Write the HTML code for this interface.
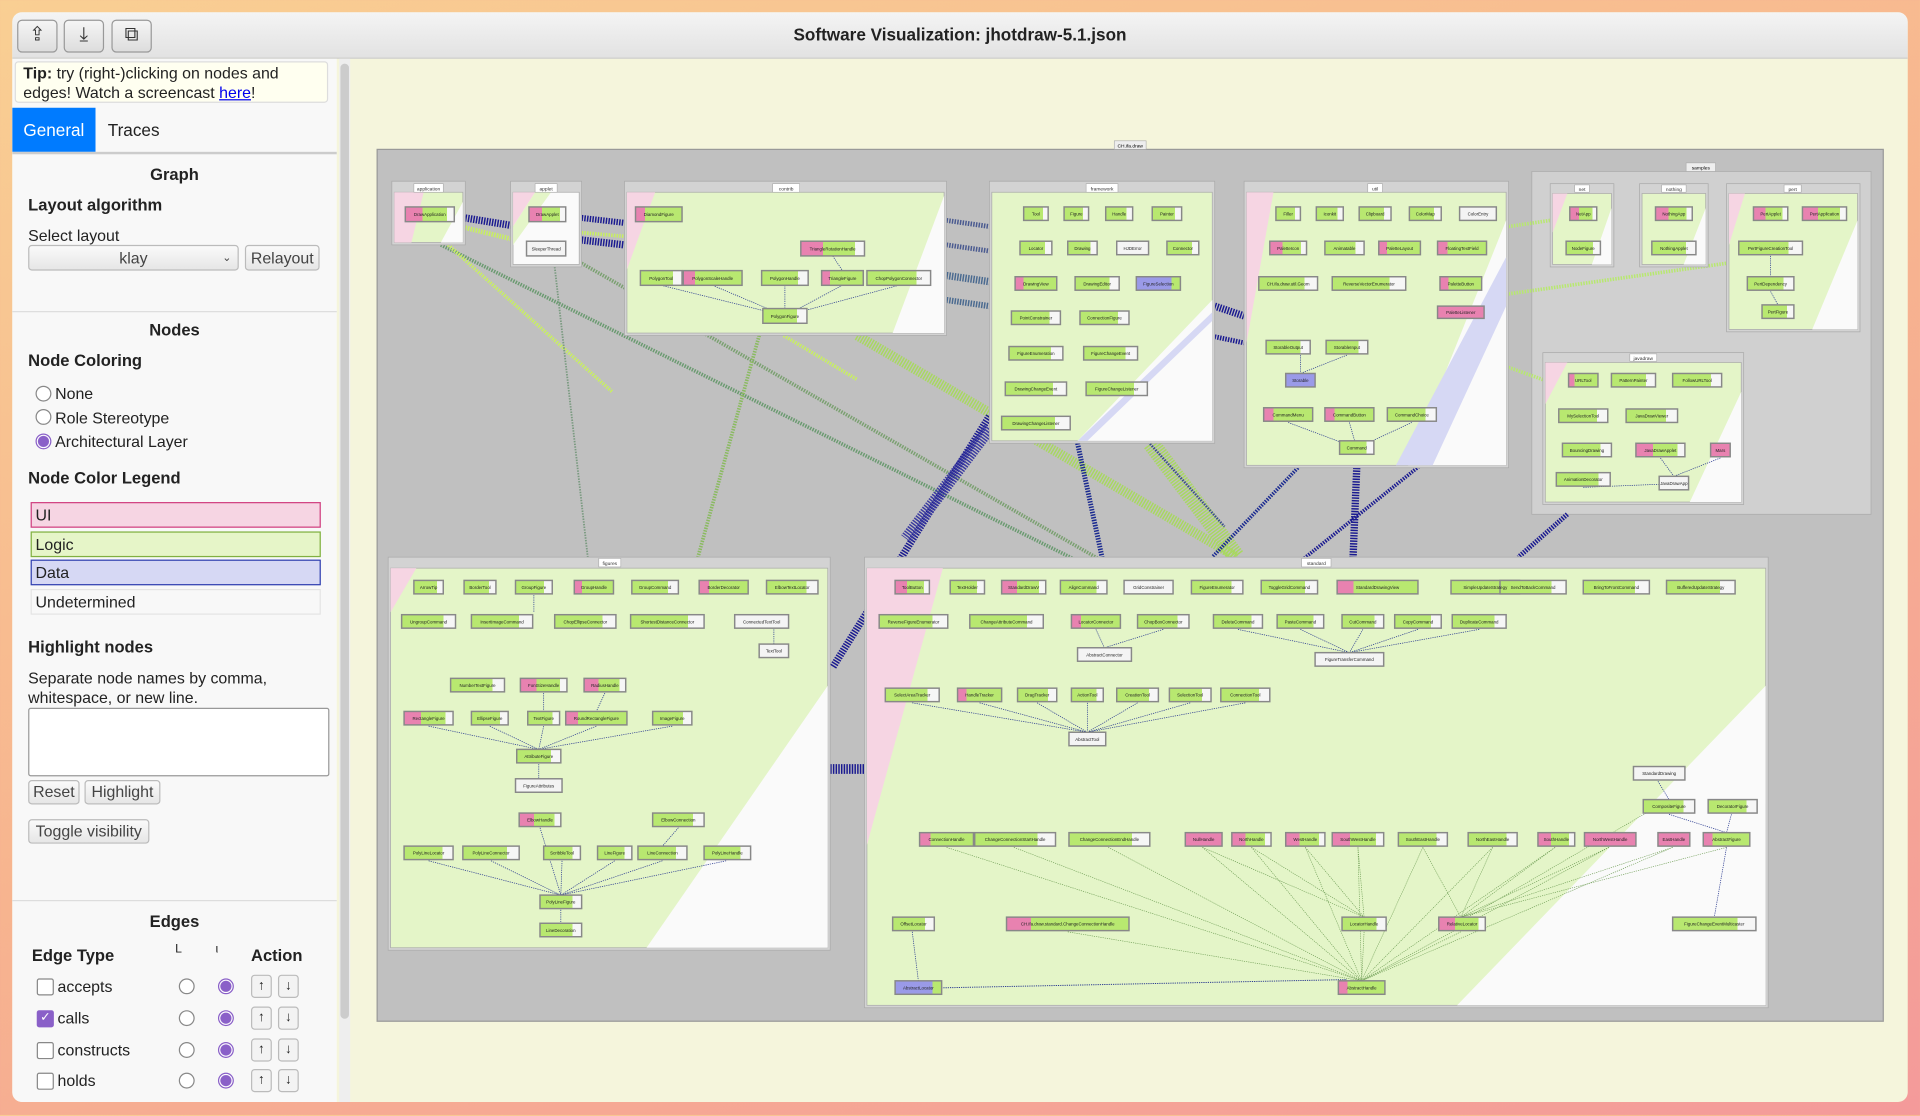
<!DOCTYPE html>
<html><head><meta charset="utf-8">
<style>
html,body{margin:0;padding:0;width:1920px;height:1115px;overflow:hidden;font-family:"Liberation Sans",sans-serif;}
body{background:linear-gradient(160deg,#f9cf93 0%,#f7b48f 50%,#f49a9a 100%);}
#w{position:absolute;left:0;top:0;width:1568px;height:911px;transform:scale(1.22449);transform-origin:0 0;}
#win{position:absolute;left:10px;top:10px;width:1548px;height:890px;background:#f5f5dc;border-radius:8px;overflow:hidden;}
#tb{position:absolute;left:0;top:0;width:1548px;height:37px;background:linear-gradient(#f4f4f4,#e2e2e2);border-bottom:1px solid #ccc;}
.tbb{position:absolute;top:6px;width:31px;height:25px;border:1px solid #999;border-radius:4px;background:linear-gradient(#f5f5f5,#ddd);font-size:16px;text-align:center;line-height:24px;color:#333}
#title{position:absolute;left:0;width:1548px;top:10px;text-align:center;font-weight:bold;font-size:14px;color:#222}
#sb{position:absolute;left:0;top:38px;width:265px;height:852px;background:#f8f8f8;color:#222;font-size:13px}
.a{position:absolute;white-space:nowrap}
.h{font-weight:bold;font-size:13.5px}
.btn{position:absolute;border:1px solid #bbb;border-radius:3px;background:linear-gradient(#fafafa,#e6e6e6);font-size:13px;color:#444;text-align:center}
.rad{position:absolute;width:11px;height:11px;border:1px solid #888;border-radius:50%;background:#fff}
.rad.on{border-color:#8a60c8;background:radial-gradient(#8a60c8 55%,#fff 62%)}
.cb{position:absolute;width:12px;height:12px;border:1px solid #888;border-radius:2px;background:#fff}
.leg{position:absolute;left:15px;width:232px;height:19px;font-size:13px;line-height:19px;padding-left:3px}
.ab{position:absolute;width:15px;height:17px;border:1px solid #bbb;border-radius:3px;background:#f3f3f3;font-size:11px;text-align:center;line-height:17px}
</style></head><body>
<div id="w">
<div id="win">
 <div id="tb">
  <div class="tbb" style="left:4px">⇪</div>
  <div class="tbb" style="left:42px">⤓</div>
  <div class="tbb" style="left:81px">⧉</div>
  <div id="title">Software Visualization: jhotdraw-5.1.json</div>
 </div>
 <div id="sb">
  <div class="a" style="left:2px;top:2px;width:256px;height:34px;background:#fffff0;border:1px solid #ddd;border-radius:3px;font-size:13px;line-height:16px;padding:1px 0 0 6px;white-space:normal;box-sizing:border-box"><b>Tip:</b> try (right-)clicking on nodes and edges! Watch a screencast <span style="color:#00e;text-decoration:underline">here</span>!</div>
  <div class="a" style="left:0;top:40px;width:68px;height:36px;background:#007bff;color:#fff;font-size:14px;line-height:36px;text-align:center">General</div>
  <div class="a" style="left:78px;top:40px;font-size:14px;line-height:36px">Traces</div>
  <div class="a" style="left:0;top:76px;width:265px;height:2px;background:#ccc"></div>
  <div class="a h" style="left:0;width:265px;text-align:center;top:87px">Graph</div>
  <div class="a h" style="left:13px;top:112px;font-size:13.5px">Layout algorithm</div>
  <div class="a" style="left:13px;top:137px">Select layout</div>
  <div class="btn" style="left:13px;top:152px;width:170px;height:19px;line-height:19px">klay <span style="position:absolute;right:5px;font-size:9px">⌄</span></div>
  <div class="btn" style="left:190px;top:152px;width:59px;height:19px;line-height:19px">Relayout</div>
  <div class="a" style="left:0;top:206px;width:265px;height:1px;background:#ddd"></div>
  <div class="a h" style="left:0;width:265px;text-align:center;top:214px">Nodes</div>
  <div class="a h" style="left:13px;top:239px">Node Coloring</div>
  <div class="rad" style="left:19px;top:267px"></div><div class="a" style="left:35px;top:266px">None</div>
  <div class="rad" style="left:19px;top:286px"></div><div class="a" style="left:35px;top:286px">Role Stereotype</div>
  <div class="rad on" style="left:19px;top:306px"></div><div class="a" style="left:35px;top:305px">Architectural Layer</div>
  <div class="a h" style="left:13px;top:335px">Node Color Legend</div>
  <div class="leg" style="top:362px;background:#f6d5e3;border:1px solid #d04080">UI</div>
  <div class="leg" style="top:386px;background:#e6f5c8;border:1px solid #80b040">Logic</div>
  <div class="leg" style="top:409px;background:#d6d8f4;border:1px solid #3040b0">Data</div>
  <div class="leg" style="top:433px;background:#f8f8f8;border:1px solid #e4e4e4">Undetermined</div>
  <div class="a h" style="left:13px;top:473px">Highlight nodes</div>
  <div class="a" style="left:13px;top:498px;line-height:16px">Separate node names by comma,<br>whitespace, or new line.</div>
  <div class="a" style="left:13px;top:530px;width:244px;height:54px;border:1px solid #999;background:#fff;border-radius:2px"></div>
  <div class="btn" style="left:13px;top:589px;width:40px;height:18px;line-height:18px">Reset</div>
  <div class="btn" style="left:59px;top:589px;width:60px;height:18px;line-height:18px">Highlight</div>
  <div class="btn" style="left:13px;top:621px;width:97px;height:18px;line-height:18px">Toggle visibility</div>
  <div class="a" style="left:0;top:687px;width:265px;height:1px;background:#ddd"></div>
  <div class="a h" style="left:0;width:265px;text-align:center;top:697px">Edges</div>
  <div class="a h" style="left:16px;top:725px">Edge Type</div>
  <div class="a" style="left:133px;top:722px;font-size:10px">L</div><div class="a" style="left:166px;top:722px;font-size:10px">ι</div>
  <div class="a h" style="left:195px;top:725px">Action</div>
  <div class="cb" style="left:20px;top:751px"></div><div class="a" style="left:37px;top:750px">accepts</div>
  <div class="cb" style="left:20px;top:777px;background:#8a60c8;border-color:#8a60c8;color:#fff;font-size:10px;line-height:12px;text-align:center">✓</div><div class="a" style="left:37px;top:776px">calls</div>
  <div class="cb" style="left:20px;top:803px"></div><div class="a" style="left:37px;top:802px">constructs</div>
  <div class="cb" style="left:20px;top:828px"></div><div class="a" style="left:37px;top:827px">holds</div>
  <div class="cb" style="left:20px;top:852px"></div>
  <div class="rad" style="left:136px;top:751px"></div><div class="rad on" style="left:168px;top:751px"></div>
  <div class="rad" style="left:136px;top:777px"></div><div class="rad on" style="left:168px;top:777px"></div>
  <div class="rad" style="left:136px;top:803px"></div><div class="rad on" style="left:168px;top:803px"></div>
  <div class="rad" style="left:136px;top:828px"></div><div class="rad on" style="left:168px;top:828px"></div>
  <div class="ab" style="left:195px;top:748px">↑</div><div class="ab" style="left:217px;top:748px">↓</div>
  <div class="ab" style="left:195px;top:774px">↑</div><div class="ab" style="left:217px;top:774px">↓</div>
  <div class="ab" style="left:195px;top:800px">↑</div><div class="ab" style="left:217px;top:800px">↓</div>
  <div class="ab" style="left:195px;top:825px">↑</div><div class="ab" style="left:217px;top:825px">↓</div>
 </div>
 <div class="a" style="left:267px;top:38px;width:9px;height:852px;background:#eee"></div>
 <div class="a" style="left:268px;top:42px;width:7px;height:780px;background:#ccc;border-radius:4px"></div>
</div>

<svg class="a" style="left:0;top:0" width="1568" height="911" viewBox="0 0 1568 911" font-family="Liberation Sans,sans-serif">
<defs>
<linearGradient id="gp" x1="0" x2="1"><stop offset="0" stop-color="#e882b0"/><stop offset=".35" stop-color="#e882b0"/><stop offset=".35" stop-color="#b8e870"/><stop offset=".85" stop-color="#b8e870"/><stop offset=".85" stop-color="#f6f6f6"/></linearGradient>
<linearGradient id="gg" x1="0" x2="1"><stop offset="0" stop-color="#b8e870"/><stop offset=".78" stop-color="#b8e870"/><stop offset=".78" stop-color="#f6f6f6"/></linearGradient>
<linearGradient id="gk" x1="0" x2="1"><stop offset="0" stop-color="#e882b0"/><stop offset=".2" stop-color="#e882b0"/><stop offset=".2" stop-color="#b8e870"/></linearGradient>
<linearGradient id="gw" x1="0" x2="1"><stop offset="0" stop-color="#f4f4f4"/></linearGradient>
<linearGradient id="gb" x1="0" x2="1"><stop offset="0" stop-color="#9a9ae8"/><stop offset=".8" stop-color="#9a9ae8"/><stop offset=".8" stop-color="#b8e870"/></linearGradient>
<linearGradient id="gm" x1="0" x2="1"><stop offset="0" stop-color="#e882b0"/></linearGradient>
</defs>
<rect x="308" y="122" width="1230" height="712" fill="#c0c0c0" stroke="#999"/>
<rect x="910" y="115" width="26" height="7" fill="#eee" stroke="#aaa" stroke-width=".5"/><text x="923" y="120.5" font-size="4" text-anchor="middle">CH.ifa.draw</text>
<rect x="1251" y="140" width="277" height="280" fill="#d0d0d0" stroke="#aaa" stroke-width=".6"/>
<rect x="1377" y="133" width="24" height="7" fill="#eee" stroke="#aaa" stroke-width=".5"/><text x="1389" y="138.5" font-size="4" text-anchor="middle">samples</text>

<g fill="none" stroke-dasharray="1.2 1">
<path d="M360 200 L880 458" stroke="#6a9a70" stroke-width="3"/>
<path d="M366 200 L500 320" stroke="#c8f060" stroke-width="3"/>
<path d="M475 215 L900 458" stroke="#7aa070" stroke-width="3"/>
<path d="M453 218 L480 455" stroke="#7a9a80" stroke-width="1.5"/>
<path d="M620 274 L570 455" stroke="#8aba60" stroke-width="3"/>
<path d="M700 274 L1010 455" stroke="#a8d860" stroke-width="8"/>
<path d="M640 274 L700 310" stroke="#c8f060" stroke-width="3"/>
<path d="M380 178 L417 184" stroke="#1a1a90" stroke-width="6"/>
<path d="M380 186 L417 195" stroke="#c8f060" stroke-width="4"/>
<path d="M475 178 L510 182" stroke="#1a1a90" stroke-width="5"/>
<path d="M475 196 L510 200" stroke="#1a1a90" stroke-width="6"/>
<path d="M475 190 L510 193" stroke="#c8f060" stroke-width="3"/>
<path d="M773 180 L808 185" stroke="#4a5a90" stroke-width="4"/>
<path d="M773 200 L808 205" stroke="#4a5a90" stroke-width="4"/>
<path d="M773 225 L808 230" stroke="#4a6a90" stroke-width="6"/>
<path d="M773 245 L808 250" stroke="#4a6a90" stroke-width="5"/>
<path d="M992 250 L1016 258" stroke="#1a1a90" stroke-width="6"/>
<path d="M992 275 L1016 280" stroke="#1a1a90" stroke-width="4"/>
<path d="M1232 185 L1266 180" stroke="#b8e870" stroke-width="3"/>
<path d="M1232 240 L1410 215" stroke="#b8e870" stroke-width="3"/>
<path d="M1232 300 L1260 310" stroke="#b8e870" stroke-width="3"/>
<path d="M808 340 L680 545" stroke="#1a1a90" stroke-width="6"/>
<path d="M808 350 L740 440" stroke="#3a3aa0" stroke-width="10"/>
<path d="M880 362 L900 455" stroke="#1a2a90" stroke-width="4"/>
<path d="M940 362 L1010 455" stroke="#a8d860" stroke-width="14"/>
<path d="M1108 382 L1105 455" stroke="#1a1a90" stroke-width="6"/>
<path d="M1060 382 L990 455" stroke="#1a2a90" stroke-width="3"/>
<path d="M1280 420 L1240 455" stroke="#1a1a90" stroke-width="4"/>
<path d="M1060 460 L1160 380" stroke="#1a1a90" stroke-width="3"/>
<path d="M678 628 L706 628" stroke="#1a1a90" stroke-width="8"/>
<path d="M820 230 L1000 430" stroke="#3a4a90" stroke-width="2"/>
</g>

<g stroke="#aaa" stroke-width=".6">
<rect x="320" y="148" width="60" height="52" fill="#d3d3d3"/>
<rect x="322" y="157" width="56" height="41" fill="#e4f5c8"/>
<polygon points="322,157 346,157 336,198 322,198" fill="#f6d5e3" stroke="none"/><polygon points="378,165 378,198 360,198" fill="#fafafa" stroke="none"/>
<rect x="417" y="148" width="58" height="70" fill="#d3d3d3"/>
<rect x="419" y="157" width="54" height="59" fill="#fafafa"/>
<polygon points="419,157 437,157 419,185" fill="#f6d5e3" stroke="none"/><polygon points="437,157 450,157 419,200 419,185" fill="#e4f5c8" stroke="none"/>
<rect x="510" y="148" width="263" height="126" fill="#d3d3d3"/>
<rect x="512" y="157" width="259" height="115" fill="#e4f5c8"/>
<polygon points="512,157 535,157 512,220" fill="#f6d5e3" stroke="none"/><polygon points="771,160 771,272 729,272" fill="#fafafa" stroke="none"/>
<rect x="808" y="148" width="184" height="214" fill="#d3d3d3"/>
<rect x="810" y="157" width="180" height="203" fill="#e4f5c8"/>
<polygon points="990,245 990,360 880,360" fill="#fafafa" stroke="none"/><polygon points="990,255 990,262 888,360 880,360" fill="#d6d8f4" stroke="none"/>
<rect x="1016" y="148" width="216" height="234" fill="#d3d3d3"/>
<rect x="1018" y="157" width="212" height="223" fill="#e4f5c8"/>
<polygon points="1018,157 1040,157 1018,280" fill="#f6d5e3" stroke="none"/><polygon points="1230,180 1230,380 1150,380" fill="#fafafa" stroke="none"/><polygon points="1230,210 1230,250 1170,380 1140,380" fill="#d6d8f4" stroke="none"/>
<rect x="1266" y="150" width="52" height="68" fill="#d3d3d3"/><rect x="1268" y="158" width="48" height="58" fill="#e4f5c8"/><polygon points="1268,158 1280,158 1268,190" fill="#f6d5e3" stroke="none"/><polygon points="1316,170 1316,216 1300,216" fill="#fafafa" stroke="none"/>
<rect x="1339" y="150" width="56" height="68" fill="#d3d3d3"/><rect x="1341" y="158" width="52" height="58" fill="#e4f5c8"/><polygon points="1393,170 1393,216 1375,216" fill="#fafafa" stroke="none"/>
<rect x="1410" y="150" width="109" height="121" fill="#d3d3d3"/><rect x="1412" y="158" width="105" height="111" fill="#e4f5c8"/><polygon points="1412,158 1425,158 1412,200" fill="#f6d5e3" stroke="none"/><polygon points="1517,180 1517,269 1480,269" fill="#fafafa" stroke="none"/>
<rect x="1260" y="288" width="164" height="124" fill="#d3d3d3"/><rect x="1262" y="296" width="160" height="114" fill="#e4f5c8"/><polygon points="1262,296 1280,296 1262,330" fill="#f6d5e3" stroke="none"/><polygon points="1422,320 1422,410 1380,410" fill="#fafafa" stroke="none"/>
<rect x="317" y="455" width="361" height="321" fill="#d3d3d3"/>
<rect x="319" y="464" width="357" height="310" fill="#e4f5c8"/>
<polygon points="319,464 340,464 319,500" fill="#f6d5e3" stroke="none"/><polygon points="676,560 676,774 528,774" fill="#fafafa" stroke="none"/>
<rect x="706" y="455" width="738" height="368" fill="#d3d3d3"/>
<rect x="708" y="464" width="734" height="357" fill="#e4f5c8"/>
<polygon points="708,464 770,464 708,690" fill="#f6d5e3" stroke="none"/><polygon points="1442,560 1442,821 1190,821" fill="#fafafa" stroke="none"/>
</g>
<g font-size="4" text-anchor="middle" fill="#333">
<g fill="#fff" stroke="#aaa" stroke-width=".5">
<rect x="338" y="150" width="24" height="7"/><rect x="437" y="150" width="18" height="7"/><rect x="631" y="150" width="22" height="7"/><rect x="887" y="150" width="26" height="7"/><rect x="1117" y="150" width="12" height="7"/><rect x="1286" y="151" width="12" height="6"/><rect x="1357" y="151" width="20" height="6"/><rect x="1457" y="151" width="14" height="6"/><rect x="1331" y="289" width="22" height="6"/><rect x="489" y="456" width="18" height="7"/><rect x="1063" y="456" width="24" height="7"/>
</g>
<text x="350" y="155.5">application</text><text x="446" y="155.5">applet</text><text x="642" y="155.5">contrib</text><text x="900" y="155.5">framework</text><text x="1123" y="155.5">util</text><text x="1292" y="156">net</text><text x="1367" y="156">nothing</text><text x="1464" y="156">pert</text><text x="1342" y="294">javadraw</text><text x="498" y="461.5">figures</text><text x="1075" y="461.5">standard</text>
</g>

<g fill="none" stroke-width=".6" stroke="#2a3a90" stroke-dasharray="1 .8">
<path d="M540 233 L641 258 M582 233 L641 258 M641 233 L641 258 M688 233 L641 258 M734 233 L641 258 M680 209 L688 221"/>
<path d="M1062 290 L1062 305 M1100 290 L1062 305 M1052 345 L1108 366 M1102 345 L1108 366 M1153 345 L1108 366"/>
<path d="M1446 209 L1446 226 M1446 238 L1452 249 M1293 398 L1367 395 M1356 374 L1367 389 M1405 374 L1367 389"/>
<path d="M436 486 L436 500 M444 593 L440 612 M400 593 L440 612 M350 593 L440 612 M487 593 L440 612 M549 593 L440 612 M444 566 L444 581 M494 566 L487 581 M440 624 L440 636 M632 514 L632 526"/>
<path d="M441 676 L458 731 M350 703 L458 731 M401 703 L458 731 M459 703 L458 731 M502 703 L458 731 M541 703 L458 731 M593 703 L458 731 M554 676 L541 691 M458 743 L458 754"/>
<path d="M895 514 L902 529 M950 514 L902 529 M1062 514 L1102 533 M1113 514 L1102 533 M1158 514 L1102 533 M1208 514 L1102 533 M1011 514 L1102 533"/>
<path d="M745 574 L888 598 M800 574 L888 598 M847 574 L888 598 M888 574 L888 598 M929 574 L888 598 M972 574 L888 598 M1017 574 L888 598"/>
<path d="M1354 638 L1363 653 M1414 665 L1410 680 M1363 665 L1410 680 M1410 692 L1400 749 M745 761 L750 801"/>
</g>
<g fill="none" stroke-width=".5" stroke="#6a9a50" stroke-dasharray="1 .8">
<path d="M773 692 L1112 801 M828 692 L1112 801 M905 692 L1112 801 M982 692 L1112 801 M1022 692 L1112 801 M1066 692 L1112 801 M1109 692 L1112 801 M1162 692 L1112 801 M1219 692 L1112 801 M1270 692 L1112 801 M1314 692 L1112 801 M1366 692 L1112 801"/>
<path d="M982 692 L1114 749 M1022 692 L1114 749 M1066 692 L1114 749 M1109 692 L1114 749 M1162 692 L1193 749 M1219 692 L1193 749 M1270 692 L1193 749 M1314 692 L1193 749 M1366 692 L1193 749 M1410 692 L1193 749 M1114 761 L1112 801 M1193 761 L1112 801 M872 761 L1112 801 M1363 653 L1180 760"/>
<path d="M756 807 L1100 800" stroke="#2a3a90" stroke-width=".8"/>
</g>

<g stroke="#888" stroke-width="1.2" font-size="3.6" text-anchor="middle" fill="#222">
<g>
<rect x="331" y="169" width="40" height="12" fill="url(#gp)"/><rect x="432" y="169" width="30" height="12" fill="url(#gp)"/><rect x="430" y="197" width="32" height="12" fill="url(#gw)"/>
<rect x="519" y="169" width="38" height="12" fill="url(#gk)"/><rect x="654" y="197" width="52" height="12" fill="url(#gp)"/><rect x="523" y="221" width="34" height="12" fill="url(#gg)"/><rect x="558" y="221" width="48" height="12" fill="url(#gk)"/><rect x="622" y="221" width="38" height="12" fill="url(#gg)"/><rect x="671" y="221" width="34" height="12" fill="url(#gk)"/><rect x="708" y="221" width="52" height="12" fill="url(#gg)"/><rect x="623" y="252" width="36" height="12" fill="url(#gg)"/>
<rect x="836" y="169" width="20" height="11" fill="url(#gg)"/><rect x="869" y="169" width="20" height="11" fill="url(#gg)"/><rect x="903" y="169" width="22" height="11" fill="url(#gg)"/><rect x="941" y="169" width="24" height="11" fill="url(#gg)"/><rect x="833" y="197" width="26" height="11" fill="url(#gg)"/><rect x="872" y="197" width="24" height="11" fill="url(#gg)"/><rect x="912" y="197" width="26" height="11" fill="url(#gw)"/><rect x="953" y="197" width="26" height="11" fill="url(#gg)"/><rect x="829" y="226" width="34" height="11" fill="url(#gk)"/><rect x="878" y="226" width="36" height="11" fill="url(#gg)"/><rect x="928" y="226" width="36" height="11" fill="url(#gb)"/><rect x="826" y="254" width="40" height="11" fill="url(#gg)"/><rect x="882" y="254" width="40" height="11" fill="url(#gg)"/><rect x="824" y="283" width="44" height="11" fill="url(#gg)"/><rect x="885" y="283" width="44" height="11" fill="url(#gg)"/><rect x="821" y="312" width="50" height="11" fill="url(#gg)"/><rect x="887" y="312" width="50" height="11" fill="url(#gg)"/><rect x="818" y="340" width="56" height="11" fill="url(#gg)"/>
<rect x="1042" y="169" width="20" height="11" fill="url(#gg)"/><rect x="1075" y="169" width="22" height="11" fill="url(#gg)"/><rect x="1110" y="169" width="26" height="11" fill="url(#gg)"/><rect x="1151" y="169" width="26" height="11" fill="url(#gg)"/><rect x="1192" y="169" width="30" height="11" fill="url(#gw)"/><rect x="1037" y="197" width="30" height="11" fill="url(#gp)"/><rect x="1082" y="197" width="32" height="11" fill="url(#gg)"/><rect x="1126" y="197" width="34" height="11" fill="url(#gk)"/><rect x="1174" y="197" width="40" height="11" fill="url(#gk)"/><rect x="1028" y="226" width="48" height="11" fill="url(#gg)"/><rect x="1088" y="226" width="60" height="11" fill="url(#gg)"/><rect x="1176" y="226" width="34" height="11" fill="url(#gk)"/><rect x="1174" y="250" width="38" height="10" fill="url(#gm)"/><rect x="1034" y="278" width="36" height="11" fill="url(#gg)"/><rect x="1083" y="278" width="34" height="11" fill="url(#gg)"/><rect x="1050" y="305" width="24" height="11" fill="#9a9ae8"/><rect x="1032" y="333" width="40" height="11" fill="url(#gk)"/><rect x="1082" y="333" width="40" height="11" fill="url(#gk)"/><rect x="1133" y="333" width="40" height="11" fill="url(#gg)"/><rect x="1094" y="360" width="28" height="11" fill="url(#gg)"/>
<rect x="1282" y="169" width="22" height="11" fill="url(#gp)"/><rect x="1279" y="197" width="28" height="11" fill="url(#gg)"/><rect x="1352" y="169" width="30" height="11" fill="url(#gp)"/><rect x="1349" y="197" width="36" height="11" fill="url(#gg)"/><rect x="1432" y="169" width="28" height="11" fill="url(#gp)"/><rect x="1472" y="169" width="36" height="11" fill="url(#gp)"/><rect x="1420" y="197" width="52" height="11" fill="url(#gg)"/><rect x="1427" y="226" width="38" height="11" fill="url(#gg)"/><rect x="1439" y="249" width="26" height="11" fill="url(#gg)"/>
<rect x="1281" y="305" width="24" height="11" fill="url(#gk)"/><rect x="1316" y="305" width="36" height="11" fill="url(#gg)"/><rect x="1366" y="305" width="40" height="11" fill="url(#gg)"/><rect x="1273" y="334" width="40" height="11" fill="url(#gg)"/><rect x="1328" y="334" width="42" height="11" fill="url(#gg)"/><rect x="1276" y="362" width="40" height="11" fill="url(#gg)"/><rect x="1336" y="362" width="40" height="11" fill="url(#gp)"/><rect x="1397" y="362" width="16" height="11" fill="url(#gm)"/><rect x="1271" y="386" width="44" height="11" fill="url(#gg)"/><rect x="1355" y="389" width="24" height="11" fill="url(#gw)"/>
<rect x="338" y="474" width="24" height="11" fill="url(#gg)"/><rect x="379" y="474" width="26" height="11" fill="url(#gg)"/><rect x="421" y="474" width="30" height="11" fill="url(#gg)"/><rect x="469" y="474" width="32" height="11" fill="url(#gk)"/><rect x="516" y="474" width="38" height="11" fill="url(#gg)"/><rect x="571" y="474" width="40" height="11" fill="url(#gk)"/><rect x="626" y="474" width="42" height="11" fill="url(#gg)"/><rect x="328" y="502" width="44" height="11" fill="url(#gg)"/><rect x="385" y="502" width="50" height="11" fill="url(#gg)"/><rect x="453" y="502" width="50" height="11" fill="url(#gg)"/><rect x="515" y="502" width="60" height="11" fill="url(#gg)"/><rect x="600" y="502" width="44" height="11" fill="url(#gw)"/><rect x="620" y="526" width="24" height="11" fill="url(#gw)"/>
<rect x="368" y="554" width="44" height="11" fill="url(#gg)"/><rect x="425" y="554" width="38" height="11" fill="url(#gp)"/><rect x="477" y="554" width="34" height="11" fill="url(#gp)"/><rect x="330" y="581" width="40" height="11" fill="url(#gp)"/><rect x="385" y="581" width="30" height="11" fill="url(#gg)"/><rect x="431" y="581" width="26" height="11" fill="url(#gg)"/><rect x="462" y="581" width="50" height="11" fill="url(#gk)"/><rect x="533" y="581" width="32" height="11" fill="url(#gg)"/><rect x="422" y="612" width="36" height="11" fill="url(#gg)"/><rect x="421" y="636" width="38" height="11" fill="url(#gw)"/><rect x="424" y="664" width="34" height="11" fill="url(#gp)"/><rect x="533" y="664" width="42" height="11" fill="url(#gg)"/>
<rect x="330" y="691" width="40" height="11" fill="url(#gg)"/><rect x="378" y="691" width="46" height="11" fill="url(#gg)"/><rect x="444" y="691" width="30" height="11" fill="url(#gg)"/><rect x="488" y="691" width="28" height="11" fill="url(#gg)"/><rect x="521" y="691" width="40" height="11" fill="url(#gg)"/><rect x="575" y="691" width="38" height="11" fill="url(#gg)"/><rect x="441" y="731" width="34" height="11" fill="url(#gg)"/><rect x="441" y="754" width="34" height="11" fill="url(#gg)"/>
<rect x="731" y="474" width="28" height="11" fill="url(#gp)"/><rect x="776" y="474" width="28" height="11" fill="url(#gg)"/><rect x="818" y="474" width="36" height="11" fill="url(#gp)"/><rect x="866" y="474" width="38" height="11" fill="url(#gg)"/><rect x="918" y="474" width="40" height="11" fill="url(#gw)"/><rect x="973" y="474" width="42" height="11" fill="url(#gg)"/><rect x="1030" y="474" width="46" height="11" fill="url(#gg)"/><rect x="1092" y="474" width="66" height="11" fill="url(#gk)"/><rect x="1185" y="474" width="56" height="11" fill="url(#gg)"/><rect x="1225" y="474" width="54" height="11" fill="url(#gg)"/><rect x="1293" y="474" width="54" height="11" fill="url(#gg)"/><rect x="1361" y="474" width="56" height="11" fill="url(#gg)"/>
<rect x="718" y="502" width="56" height="11" fill="url(#gg)"/><rect x="792" y="502" width="60" height="11" fill="url(#gg)"/><rect x="875" y="502" width="40" height="11" fill="url(#gk)"/><rect x="929" y="502" width="42" height="11" fill="url(#gg)"/><rect x="991" y="502" width="40" height="11" fill="url(#gg)"/><rect x="1043" y="502" width="38" height="11" fill="url(#gg)"/><rect x="1096" y="502" width="34" height="11" fill="url(#gg)"/><rect x="1139" y="502" width="38" height="11" fill="url(#gg)"/><rect x="1186" y="502" width="44" height="11" fill="url(#gg)"/><rect x="880" y="529" width="44" height="11" fill="url(#gw)"/><rect x="1074" y="533" width="56" height="11" fill="url(#gw)"/>
<rect x="723" y="562" width="44" height="11" fill="url(#gg)"/><rect x="782" y="562" width="36" height="11" fill="url(#gk)"/><rect x="831" y="562" width="32" height="11" fill="url(#gg)"/><rect x="875" y="562" width="26" height="11" fill="url(#gg)"/><rect x="912" y="562" width="34" height="11" fill="url(#gg)"/><rect x="955" y="562" width="34" height="11" fill="url(#gg)"/><rect x="997" y="562" width="40" height="11" fill="url(#gg)"/><rect x="873" y="598" width="30" height="11" fill="url(#gw)"/>
<rect x="1334" y="626" width="42" height="11" fill="url(#gw)"/><rect x="1342" y="653" width="42" height="11" fill="url(#gg)"/><rect x="1395" y="653" width="40" height="11" fill="url(#gg)"/>
<rect x="751" y="680" width="44" height="11" fill="url(#gk)"/><rect x="796" y="680" width="66" height="11" fill="url(#gg)"/><rect x="873" y="680" width="66" height="11" fill="url(#gg)"/><rect x="968" y="680" width="30" height="11" fill="url(#gm)"/><rect x="1006" y="680" width="32" height="11" fill="url(#gp)"/><rect x="1050" y="680" width="32" height="11" fill="url(#gp)"/><rect x="1088" y="680" width="42" height="11" fill="url(#gp)"/><rect x="1142" y="680" width="40" height="11" fill="url(#gg)"/><rect x="1199" y="680" width="40" height="11" fill="url(#gg)"/><rect x="1256" y="680" width="30" height="11" fill="url(#gp)"/><rect x="1294" y="680" width="42" height="11" fill="url(#gm)"/><rect x="1354" y="680" width="26" height="11" fill="url(#gm)"/><rect x="1391" y="680" width="38" height="11" fill="url(#gk)"/>
<rect x="729" y="749" width="34" height="11" fill="url(#gg)"/><rect x="822" y="749" width="100" height="11" fill="url(#gk)"/><rect x="1096" y="749" width="36" height="11" fill="url(#gg)"/><rect x="1175" y="749" width="38" height="11" fill="url(#gp)"/><rect x="1366" y="749" width="68" height="11" fill="url(#gg)"/><rect x="731" y="801" width="38" height="11" fill="url(#gb)"/><rect x="1093" y="801" width="38" height="11" fill="url(#gk)"/>
</g>
<g stroke="none">
<text x="351" y="176.5">DrawApplication</text><text x="447" y="176.5">DrawApplet</text><text x="446" y="204.5">SleeperThread</text>
<text x="538" y="176.5">DiamondFigure</text><text x="680" y="204.5">TriangleRotationHandle</text><text x="540" y="228.5">PolygonTool</text><text x="582" y="228.5">PolygonScaleHandle</text><text x="641" y="228.5">PolygonHandle</text><text x="688" y="228.5">TriangleFigure</text><text x="734" y="228.5">ChopPolygonConnector</text><text x="641" y="259.5">PolygonFigure</text>
<text x="846" y="176">Tool</text><text x="879" y="176">Figure</text><text x="914" y="176">Handle</text><text x="953" y="176">Painter</text><text x="846" y="204">Locator</text><text x="884" y="204">Drawing</text><text x="925" y="204">HJDError</text><text x="966" y="204">Connector</text><text x="846" y="233">DrawingView</text><text x="896" y="233">DrawingEditor</text><text x="946" y="233">FigureSelection</text><text x="846" y="261">PointConstrainer</text><text x="902" y="261">ConnectionFigure</text><text x="846" y="290">FigureEnumeration</text><text x="907" y="290">FigureChangeEvent</text><text x="846" y="319">DrawingChangeEvent</text><text x="912" y="319">FigureChangeListener</text><text x="846" y="347">DrawingChangeListener</text>
<text x="1052" y="176">Filler</text><text x="1086" y="176">Iconkit</text><text x="1123" y="176">Clipboard</text><text x="1164" y="176">ColorMap</text><text x="1207" y="176">ColorEntry</text><text x="1052" y="204">PaletteIcon</text><text x="1098" y="204">Animatable</text><text x="1143" y="204">PaletteLayout</text><text x="1194" y="204">FloatingTextField</text><text x="1052" y="233">CH.ifa.draw.util.Geom</text><text x="1118" y="233">ReverseVectorEnumerator</text><text x="1193" y="233">PaletteButton</text><text x="1193" y="256.5">PaletteListener</text><text x="1052" y="285">StorableOutput</text><text x="1100" y="285">StorableInput</text><text x="1062" y="312">Storable</text><text x="1052" y="340">CommandMenu</text><text x="1102" y="340">CommandButton</text><text x="1153" y="340">CommandChoice</text><text x="1108" y="367">Command</text>
<text x="1293" y="176">NetApp</text><text x="1293" y="204">NodeFigure</text><text x="1367" y="176">NothingApp</text><text x="1367" y="204">NothingApplet</text><text x="1446" y="176">PertApplet</text><text x="1490" y="176">PertApplication</text><text x="1446" y="204">PertFigureCreationTool</text><text x="1446" y="233">PertDependency</text><text x="1452" y="256">PertFigure</text>
<text x="1293" y="312">URLTool</text><text x="1334" y="312">PatternPainter</text><text x="1386" y="312">FollowURLTool</text><text x="1293" y="341">MySelectionTool</text><text x="1349" y="341">JavaDrawViewer</text><text x="1296" y="369">BouncingDrawing</text><text x="1356" y="369">JavaDrawApplet</text><text x="1405" y="369">Mars</text><text x="1293" y="393">AnimationDecorator</text><text x="1367" y="396">JavaDrawApp</text>
<text x="350" y="481">ArrowTip</text><text x="392" y="481">BorderTool</text><text x="436" y="481">GroupFigure</text><text x="485" y="481">GroupHandle</text><text x="535" y="481">GroupCommand</text><text x="591" y="481">BorderDecorator</text><text x="647" y="481">ElbowTextLocator</text><text x="350" y="509">UngroupCommand</text><text x="410" y="509">InsertImageCommand</text><text x="478" y="509">ChopEllipseConnector</text><text x="545" y="509">ShortestDistanceConnector</text><text x="622" y="509">ConnectedTextTool</text><text x="632" y="533">TextTool</text>
<text x="390" y="561">NumberTextFigure</text><text x="444" y="561">FontSizeHandle</text><text x="494" y="561">RadiusHandle</text><text x="350" y="588">RectangleFigure</text><text x="400" y="588">EllipseFigure</text><text x="444" y="588">TextFigure</text><text x="487" y="588">RoundRectangleFigure</text><text x="549" y="588">ImageFigure</text><text x="440" y="619">AttributeFigure</text><text x="440" y="643">FigureAttributes</text><text x="441" y="671">ElbowHandle</text><text x="554" y="671">ElbowConnection</text>
<text x="350" y="698">PolyLineLocator</text><text x="401" y="698">PolyLineConnector</text><text x="459" y="698">ScribbleTool</text><text x="502" y="698">LineFigure</text><text x="541" y="698">LineConnection</text><text x="594" y="698">PolyLineHandle</text><text x="458" y="738">PolyLineFigure</text><text x="458" y="761">LineDecoration</text>
<text x="745" y="481">ToolButton</text><text x="790" y="481">TextHolder</text><text x="836" y="481">StandardDrawV</text><text x="885" y="481">AlignCommand</text><text x="938" y="481">GridConstrainer</text><text x="994" y="481">FigureEnumerator</text><text x="1053" y="481">ToggleGridCommand</text><text x="1125" y="481">StandardDrawingView</text><text x="1213" y="481">SimpleUpdateStrategy</text><text x="1252" y="481">SendToBackCommand</text><text x="1320" y="481">BringToFrontCommand</text><text x="1389" y="481">BufferedUpdateStrategy</text>
<text x="746" y="509">ReverseFigureEnumerator</text><text x="822" y="509">ChangeAttributeCommand</text><text x="895" y="509">LocatorConnector</text><text x="950" y="509">ChopBoxConnector</text><text x="1011" y="509">DeleteCommand</text><text x="1062" y="509">PasteCommand</text><text x="1113" y="509">CutCommand</text><text x="1158" y="509">CopyCommand</text><text x="1208" y="509">DuplicateCommand</text><text x="902" y="536">AbstractConnector</text><text x="1102" y="540">FigureTransferCommand</text>
<text x="745" y="569">SelectAreaTracker</text><text x="800" y="569">HandleTracker</text><text x="847" y="569">DragTracker</text><text x="888" y="569">ActionTool</text><text x="929" y="569">CreationTool</text><text x="972" y="569">SelectionTool</text><text x="1017" y="569">ConnectionTool</text><text x="888" y="605">AbstractTool</text>
<text x="1355" y="633">StandardDrawing</text><text x="1363" y="660">CompositeFigure</text><text x="1415" y="660">DecoratorFigure</text>
<text x="773" y="687">ConnectionHandle</text><text x="829" y="687">ChangeConnectionStartHandle</text><text x="906" y="687">ChangeConnectionEndHandle</text><text x="983" y="687">NullHandle</text><text x="1022" y="687">NorthHandle</text><text x="1066" y="687">WestHandle</text><text x="1109" y="687">SouthWestHandle</text><text x="1162" y="687">SouthEastHandle</text><text x="1219" y="687">NorthEastHandle</text><text x="1271" y="687">SouthHandle</text><text x="1315" y="687">NorthWestHandle</text><text x="1367" y="687">EastHandle</text><text x="1410" y="687">AbstractFigure</text>
<text x="746" y="756">OffsetLocator</text><text x="872" y="756">CH.ifa.draw.standard.ChangeConnectionHandle</text><text x="1114" y="756">LocatorHandle</text><text x="1194" y="756">RelativeLocator</text><text x="1400" y="756">FigureChangeEventMulticaster</text><text x="750" y="808">AbstractLocator</text><text x="1112" y="808">AbstractHandle</text>
</g>
</g>
</svg>
</div>
</body></html>
